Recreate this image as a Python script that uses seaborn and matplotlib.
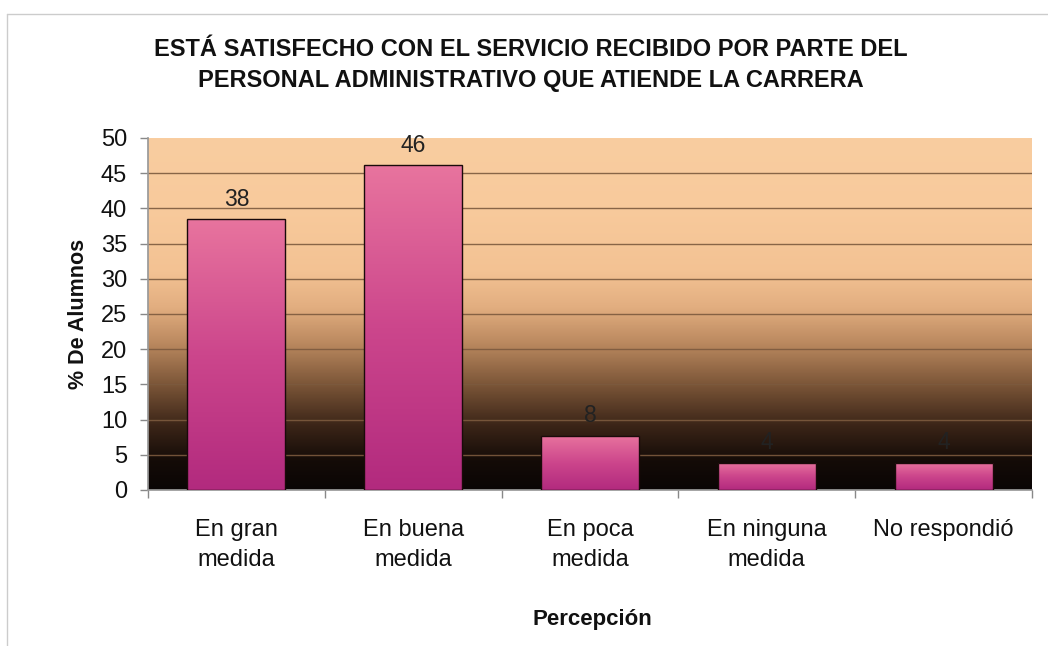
import numpy as np
import pandas as pd
import matplotlib
matplotlib.use("Agg")
import matplotlib.pyplot as plt
from matplotlib.colors import LinearSegmentedColormap
import seaborn as sns

categories = ["En gran\nmedida", "En buena\nmedida", "En poca\nmedida", "En ninguna\nmedida", "No respondió"]
values = [38.46, 46.15, 7.69, 3.85, 3.85]
labels = ["38", "46", "8", "4", "4"]
yticks = [0, 5, 10, 15, 20, 25, 30, 35, 40, 45, 50]
title = "ESTÁ SATISFECHO CON EL SERVICIO RECIBIDO POR PARTE DEL\nPERSONAL ADMINISTRATIVO QUE ATIENDE LA CARRERA"
ylabel = "% De Alumnos"
xlabel = "Percepción"

sns.set_theme(style="white")
plt.rcParams['font.family'] = ['Liberation Sans', 'DejaVu Sans']

df = pd.DataFrame({"cat": categories, "val": values})

fig = plt.figure(figsize=(10.48, 6.46), dpi=100)
ax = fig.add_axes([148/1048, 1-490/646, (1032-148)/1048, (490-138)/646])

sns.barplot(data=df, x="cat", y="val", ax=ax, width=0.555, color="#d04a8a",
            edgecolor="#1a0a0a", linewidth=1.0, zorder=3)

ax.set_xlim(-0.5, len(categories) - 0.5)
ax.set_ylim(0, 50)

# background gradient (value-based)
bg_cmap = LinearSegmentedColormap.from_list("bg", [
    (0.0, "#0a0505"), (0.08, "#140b07"), (0.18, "#3a2417"), (0.30, "#7c5638"),
    (0.42, "#bc8a60"), (0.52, "#e2ae80"), (0.62, "#f3c293"), (0.80, "#f8ca9c"),
    (1.0, "#f9cda0")])
grad = np.linspace(0, 1, 256).reshape(-1, 1)
ax.imshow(grad, cmap=bg_cmap, origin="lower", aspect="auto",
          extent=(-0.5, len(categories) - 0.5, 0, 50), zorder=0)

# gridlines
for t in yticks[1:-1]:
    ax.axhline(t, color="#7c5a3e", linewidth=1.0, zorder=1, alpha=0.9)

# gradient on bars
bar_cmap = LinearSegmentedColormap.from_list("bar", ["#b22a7e", "#cc468c", "#e8749e"])
for p in ax.patches:
    x0, y0 = p.get_x(), p.get_y()
    w, h = p.get_width(), p.get_height()
    im = ax.imshow(grad, cmap=bar_cmap, origin="lower", aspect="auto",
                   extent=(x0, x0 + w, y0, y0 + h), zorder=3.5)
    im.set_clip_path(p)
    p.set_facecolor("none")
    p.set_zorder(4)
ax.set_xlim(-0.5, len(categories) - 0.5)
ax.set_ylim(0, 50)

# value labels
for i, (v, lab) in enumerate(zip(values, labels)):
    ax.text(i, v + 1.2, lab, ha="center", va="bottom", fontsize=16.5, color="#222222", zorder=5)

ax.set_yticks(yticks)
ax.set_yticklabels([str(t) for t in yticks], fontsize=17, color="#111111")
ax.set_xticks(range(len(categories)))
ax.set_xticklabels(categories, fontsize=17, color="#111111", linespacing=1.45)
ax.set_xticks(np.arange(-0.5, len(categories)), minor=True)
ax.tick_params(axis="y", which="major", left=True, length=6, width=1, color="#888888", pad=9)
ax.tick_params(axis="x", which="major", bottom=False, pad=15)
ax.tick_params(axis="x", which="minor", bottom=True, length=6, width=1, color="#888888")

for s in ["top", "right"]:
    ax.spines[s].set_visible(False)
ax.spines["left"].set_color("#999999")
ax.spines["bottom"].set_color("#999999")

ax.set_xlabel("")
ax.set_ylabel("")
fig.text(78/1048, 1 - 314/646, ylabel, rotation=90, ha="center", va="center",
         fontsize=15.5, fontweight="bold", color="#111111")
fig.text(592/1048, 1 - 620/646, xlabel, ha="center", va="center",
         fontsize=16, fontweight="bold", color="#111111")
fig.text(531/1048, 1 - 65/646, title, ha="center", va="center", fontsize=17,
         fontweight="bold", color="#111111", linespacing=1.45)

# figure border (light)
fig.add_artist(plt.Line2D([7/1048, 7/1048], [0, 1 - 14/646], color="#cccccc", lw=1,
                          transform=fig.transFigure))
fig.add_artist(plt.Line2D([7/1048, 1], [1 - 14/646, 1 - 14/646], color="#cccccc", lw=1,
                          transform=fig.transFigure))

fig.savefig("out.png", dpi=100, facecolor="white")
